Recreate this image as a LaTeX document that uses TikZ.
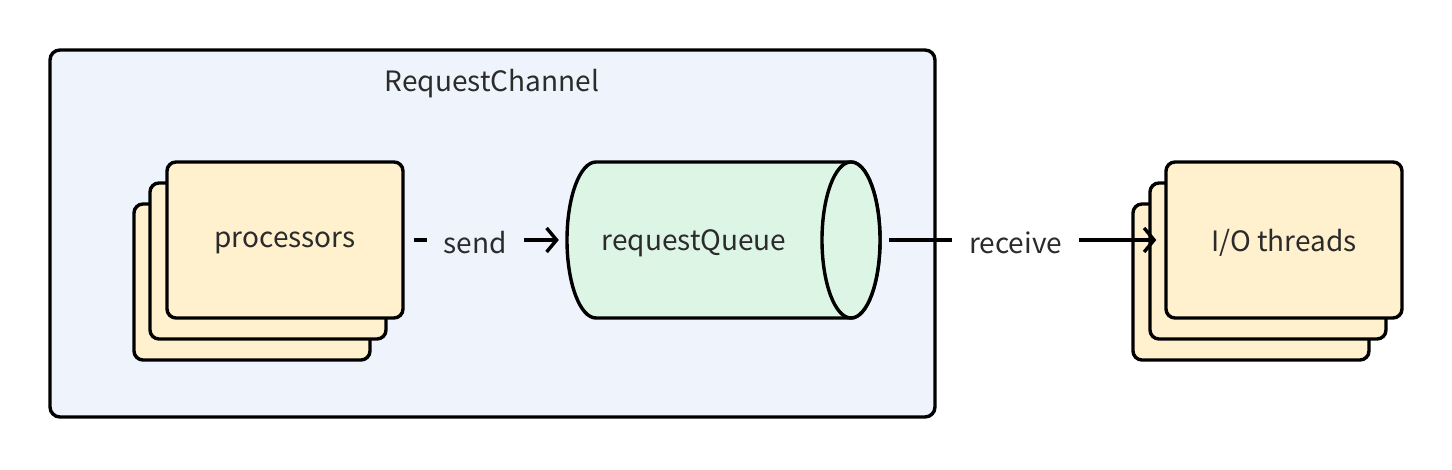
\documentclass[tikz,border=0pt]{standalone}
\usepackage{fontspec}
\setmainfont{Noto Sans CJK SC}
\usetikzlibrary{arrows.meta}
\definecolor{chanfill}{HTML}{EEF3FC}
\definecolor{boxfill}{HTML}{FFF1CE}
\definecolor{qfill}{HTML}{DDF5E5}
\definecolor{txt}{HTML}{2B2B2B}
\tikzset{
  lw/.style={line width=3.4pt},
  card/.style={draw=black, lw, fill=boxfill, rounded corners=9pt, minimum width=236pt, minimum height=156pt, inner sep=0pt},
  cardtext/.style={text=txt, font=\fontsize{28}{32}\selectfont},
  conn/.style={lw, -{Straight Barb[length=10pt,width=24pt]}, shorten <=9pt, shorten >=8pt},
  lbl/.style={font=\fontsize{28}{32}\selectfont, text=txt, inner xsep=17pt, inner ysep=4pt}
}
\begin{document}
\begin{tikzpicture}[x=1pt,y=1pt]
\useasboundingbox (0,0) rectangle (1452,470);
% container
\node[draw=black, lw, fill=chanfill, rounded corners=10pt, minimum width=885pt, minimum height=367pt, inner sep=0pt] (chan) at (492.5,236.5) {};
\node[cardtext] (title) at (492,386) {RequestChannel};
% processors stack
\node[card] (p3) at (252,188) {};
\node[card] (p2) at (268,209) {};
\node[card] (p1) at (285,230) {};
\node[cardtext] (pt) at (285,227) {processors};
% queue
\node[minimum width=313pt, minimum height=156pt, inner sep=0pt] (q) at (723.5,230) {};
\draw[lw, fill=qfill] (596,308) -- (851,308) arc[start angle=90, end angle=-90, x radius=29, y radius=78] -- (596,152) arc[start angle=270, end angle=90, x radius=29, y radius=78] -- cycle;
\draw[lw, fill=qfill] (851,230) ellipse[x radius=29, y radius=78];
\node[cardtext] (qt) at (694,227) {requestQueue};
% I/O threads stack
\node[card] (t3) at (1251,188) {};
\node[card] (t2) at (1268,209) {};
\node[card] (t1) at (1284,230) {};
\node[cardtext] (tt) at (1284,227) {I/O threads};
% connectors
\draw[conn] (p1.east) -- node[lbl, fill=chanfill, yshift=-3pt, pos=0.436] (send) {send} (q.west);
\draw[conn] (q.east) -- node[lbl, fill=white, yshift=-3pt, pos=0.477] (recv) {receive} (t1.west);
\end{tikzpicture}
\end{document}
